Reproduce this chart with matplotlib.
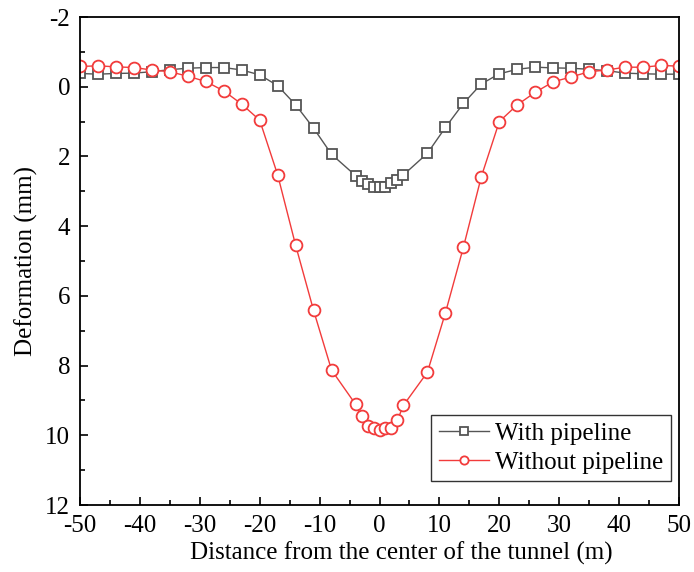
import matplotlib
matplotlib.use("Agg")
import matplotlib.pyplot as plt
from matplotlib.ticker import MultipleLocator

plt.rcParams['font.family'] = ['Liberation Serif', 'DejaVu Serif']
plt.rcParams['axes.unicode_minus'] = False

x = [-50, -47, -44, -41, -38, -35, -32, -29, -26, -23, -20, -17, -14, -11, -8,
     -4, -3, -2, -1, 0, 1, 2, 3, 4,
     8, 11, 14, 17, 20, 23, 26, 29, 32, 35, 38, 41, 44, 47, 50]

with_pipe = [-0.38, -0.36, -0.38, -0.39, -0.43, -0.49, -0.53, -0.55, -0.55, -0.48, -0.34, -0.03, 0.52, 1.19, 1.94,
             2.55, 2.70, 2.79, 2.87, 2.89, 2.87, 2.77, 2.68, 2.53,
             1.91, 1.17, 0.48, -0.08, -0.37, -0.50, -0.56, -0.54, -0.53, -0.50, -0.46, -0.39, -0.37, -0.36, -0.36]

without_pipe = [-0.58, -0.60, -0.57, -0.55, -0.48, -0.43, -0.30, -0.15, 0.12, 0.50, 0.96, 2.53, 4.55, 6.42, 8.13,
                9.11, 9.45, 9.73, 9.80, 9.85, 9.80, 9.80, 9.56, 9.14,
                8.19, 6.49, 4.61, 2.58, 1.00, 0.52, 0.16, -0.14, -0.28, -0.43, -0.48, -0.56, -0.56, -0.61, -0.59]

fig = plt.figure(figsize=(6.94, 5.72), dpi=100)
ax = fig.add_axes([80/694, 1-505/572, (679-80)/694, (505-17)/572])

ax.plot(x, with_pipe, color='#555555', lw=1.0, marker='s', markersize=7.5,
        markerfacecolor='white', markeredgecolor='#555555', markeredgewidth=1.3,
        label='With pipeline')
ax.plot(x, without_pipe, color='#f23b3b', lw=1.0, marker='o', markersize=8.5,
        markerfacecolor='white', markeredgecolor='#f23b3b', markeredgewidth=1.3,
        label='Without pipeline')

ax.set_xlim(-50, 50)
ax.set_ylim(12, -2)
ax.xaxis.set_major_locator(MultipleLocator(10))
ax.xaxis.set_minor_locator(MultipleLocator(5))
ax.yaxis.set_major_locator(MultipleLocator(2))
ax.yaxis.set_minor_locator(MultipleLocator(1))
ax.tick_params(which='both', direction='in', top=False, right=False, labelsize=18, width=1.2)
ax.tick_params(axis='x', pad=7)
ax.tick_params(axis='y', pad=7)
ax.tick_params(which='major', length=6)
ax.tick_params(which='minor', length=3.5)
for s in ax.spines.values():
    s.set_linewidth(1.3)

ax.set_xlabel('Distance from the center of the tunnel (m)', fontsize=18, labelpad=5)
ax.xaxis.set_label_coords(0.536, -0.075)
ax.set_ylabel('Deformation (mm)', fontsize=18, labelpad=5)

leg = ax.legend(loc='lower right', bbox_to_anchor=(0.9866, 0.049), fontsize=18,
                frameon=True, fancybox=False, edgecolor='black', borderaxespad=0,
                handlelength=2.0, markerscale=0.7,
                borderpad=0.3, labelspacing=0.25, handletextpad=0.25)
leg.get_frame().set_linewidth(1.0)

fig.savefig('out.png', dpi=100)
